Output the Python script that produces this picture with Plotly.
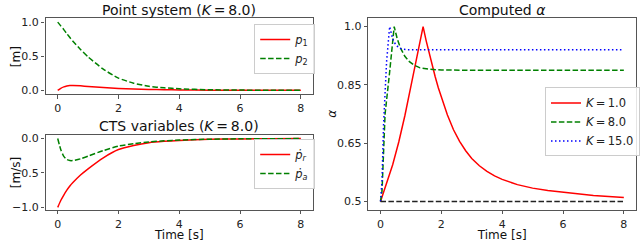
import plotly.graph_objects as go

# ---------------- data ----------------
t_left = [0, 0.1, 0.2, 0.3, 0.4, 0.5, 0.75, 1.0, 1.5, 2.0, 2.5, 3.0, 3.5, 4.0, 5.0, 6.0, 7.0, 8.0]
p1 = [0.0, 0.03, 0.051, 0.064, 0.07, 0.071, 0.066, 0.058, 0.042, 0.029, 0.02, 0.014, 0.01, 0.007, 0.003, 0.0015, 0.0007, 0.0003]
p2 = [1.0, 0.945, 0.89, 0.83, 0.775, 0.72, 0.6, 0.49, 0.31, 0.18, 0.105, 0.06, 0.037, 0.023, 0.009, 0.004, 0.0015, 0.0005]
pr_dot = [-1.0, -0.9, -0.82, -0.75, -0.69, -0.64, -0.53, -0.44, -0.28, -0.16, -0.1, -0.06, -0.04, -0.027, -0.012, -0.005, -0.002, -0.001]
pa_dot = [0.0, -0.16, -0.26, -0.305, -0.32, -0.32, -0.295, -0.255, -0.175, -0.11, -0.075, -0.05, -0.033, -0.022, -0.01, -0.004, -0.002, -0.001]

t_k1 = [0, 0.2, 0.4, 0.6, 0.8, 1.0, 1.2, 1.4, 1.5, 1.6, 1.7, 1.8, 1.9, 2.0, 2.2, 2.4, 2.6, 2.8, 3.0,
        3.25, 3.5, 3.75, 4.0, 4.5, 5.0, 5.5, 6.0, 6.5, 7.0, 7.5, 8.0]
a_k1 = [0.5, 0.55, 0.605, 0.67, 0.745, 0.83, 0.915, 1.0, 0.96, 0.923, 0.89, 0.856, 0.825, 0.797, 0.747, 0.705, 0.672, 0.645, 0.623,
        0.602, 0.586, 0.573, 0.563, 0.548, 0.538, 0.531, 0.526, 0.521, 0.517, 0.514, 0.511]
t_k8 = [0, 0.05, 0.1, 0.15, 0.3, 0.45, 0.55, 0.65, 0.8, 0.95, 1.1, 1.3, 1.6, 2.0, 3.0, 8.0]
a_k8 = [0.5, 0.53, 0.64, 0.75, 0.87, 1.0, 0.965, 0.94, 0.915, 0.9, 0.89, 0.882, 0.878, 0.876, 0.875, 0.875]
t_k15 = [0, 0.05, 0.1, 0.15, 0.2, 0.3, 0.4, 0.5, 0.6, 0.7, 0.9, 8.0]
a_k15 = [0.5, 0.56, 0.72, 0.83, 0.9, 1.0, 0.965, 0.948, 0.94, 0.936, 0.934, 0.934]
t_base = [0, 8]
a_base = [0.5, 0.5]

x_ticks = [0, 2, 4, 6, 8]
alpha_tickvals = [0.5, 0.6667, 0.8333, 1.0]
alpha_ticktext = ["0.5", "0.65", "0.85", "1.0"]

# ---------------- figure ----------------
W, H = 640, 242
FONT = "DejaVu Sans"
FRAME = "#555555"

def fx(x):
    return x / W

def fy(y):
    return 1 - y / H

TL = (45.7, 16.7, 314, 95)
BL = (45.7, 136.7, 314, 214)
RR = (369.5, 16, 638, 214)

DASH = "5.5px,2.4px"
DOT = "1.5px,2.5px"

fig = go.Figure()
fig.add_trace(go.Scatter(x=t_left, y=p1, mode="lines", line=dict(color="#ff0000", width=1.5, shape="spline", smoothing=0.6),
                         name="<i>p</i><sub>1</sub>", legend="legend", xaxis="x", yaxis="y"))
fig.add_trace(go.Scatter(x=t_left, y=p2, mode="lines", line=dict(color="#008000", width=1.5, dash=DASH, shape="spline", smoothing=0.6),
                         name="<i>p</i><sub>2</sub>", legend="legend", xaxis="x", yaxis="y"))
fig.add_trace(go.Scatter(x=t_left, y=pr_dot, mode="lines", line=dict(color="#ff0000", width=1.5, shape="spline", smoothing=0.6),
                         name="<i>ṗ</i><sub><i>r</i></sub>", legend="legend2", xaxis="x2", yaxis="y2"))
fig.add_trace(go.Scatter(x=t_left, y=pa_dot, mode="lines", line=dict(color="#008000", width=1.5, dash=DASH, shape="spline", smoothing=0.6),
                         name="<i>ṗ</i><sub><i>a</i></sub>", legend="legend2", xaxis="x2", yaxis="y2"))
fig.add_trace(go.Scatter(x=t_k1, y=a_k1, mode="lines", line=dict(color="#ff0000", width=1.5),
                         name="<i>K</i>\u2009=\u20091.0", legend="legend3", xaxis="x3", yaxis="y3"))
fig.add_trace(go.Scatter(x=t_k8, y=a_k8, mode="lines", line=dict(color="#008000", width=1.5, dash=DASH),
                         name="<i>K</i>\u2009=\u20098.0", legend="legend3", xaxis="x3", yaxis="y3"))
fig.add_trace(go.Scatter(x=t_k15, y=a_k15, mode="lines", line=dict(color="#0000ff", width=1.5, dash=DOT),
                         name="<i>K</i>\u2009=\u200915.0", legend="legend3", xaxis="x3", yaxis="y3"))
fig.add_trace(go.Scatter(x=t_base, y=a_base, mode="lines", line=dict(color="#222222", width=1.5, dash=DASH),
                         showlegend=False, xaxis="x3", yaxis="y3"))

common_axis = dict(showgrid=False, zeroline=False, showline=True, mirror=True, linecolor=FRAME, linewidth=1.2,
                   ticks="outside", ticklen=3.5, tickwidth=1, tickcolor=FRAME,
                   tickfont=dict(family=FONT, size=11, color="#222222"))

def xa(box, anchor, title=None):
    d = dict(common_axis, domain=[fx(box[0]), fx(box[2])], range=[-0.4, 8.4], anchor=anchor,
             tickvals=x_ticks, ticktext=[str(v) for v in x_ticks])
    if title:
        d["title"] = dict(text=title, standoff=3, font=dict(family=FONT, size=12, color="#111111"))
    return d

def ya(box, anchor, rng):
    return dict(common_axis, domain=[fy(box[3]), fy(box[1])], range=rng, anchor=anchor)

legend_common = dict(bgcolor="rgba(255,255,255,0.85)", bordercolor="#cccccc", borderwidth=1,
                     font=dict(family=FONT, size=11.5, color="#222222"), itemwidth=30,
                     xanchor="left", yanchor="top", tracegroupgap=0)

fig.update_layout(
    width=W, height=H, margin=dict(l=0, r=0, t=0, b=0),
    paper_bgcolor="white", plot_bgcolor="white",
    font=dict(family=FONT, size=11, color="#222222"),
    xaxis=xa(TL, "y"),
    yaxis=dict(ya(TL, "x", [-0.057, 1.057]), tickvals=[0, 0.5, 1.0], ticktext=["0.0", "0.5", "1.0"]),
    xaxis2=xa(BL, "y2", "Time [s]"),
    yaxis2=dict(ya(BL, "x2", [-1.035, 0.055]), tickvals=[-1.0, -0.5, 0.0], ticktext=["\u22121.0", "\u22120.5", "0.0"]),
    xaxis3=xa(RR, "y3", "Time [s]"),
    yaxis3=dict(ya(RR, "x3", [0.476, 1.026]), tickvals=alpha_tickvals, ticktext=alpha_ticktext),
    legend=dict(legend_common, x=fx(255), y=fy(22.7)),
    legend2=dict(legend_common, x=fx(255), y=fy(141)),
    legend3=dict(legend_common, x=fx(547), y=fy(88)),
    showlegend=True,
)

def ann(text, x, y, size, angle=0, yanchor="middle"):
    fig.add_annotation(text=text, x=fx(x), y=fy(y), xref="paper", yref="paper", showarrow=False,
                       xanchor="center", yanchor=yanchor, textangle=angle,
                       font=dict(family=FONT, size=size, color="#111111"))

ann("Point system (<i>K</i>\u2009=\u20098.0)", (TL[0] + TL[2]) / 2, 8.0, 14)
ann("CTS variables (<i>K</i>\u2009=\u20098.0)", (BL[0] + BL[2]) / 2, 128.0, 14)
ann("Computed <i>α</i>", (RR[0] + RR[2]) / 2, 8.0, 14)
ann("[m]", 16, (TL[1] + TL[3]) / 2, 12, -90)
ann("[m/s]", 16, (BL[1] + BL[3]) / 2, 12, -90)
ann("<i>α</i>", 333, (RR[1] + RR[3]) / 2, 12, -90)

fig.write_html("out.html", config={"displayModeBar": False},
               post_script="document.body.style.margin='0';document.body.style.overflow='hidden';")
